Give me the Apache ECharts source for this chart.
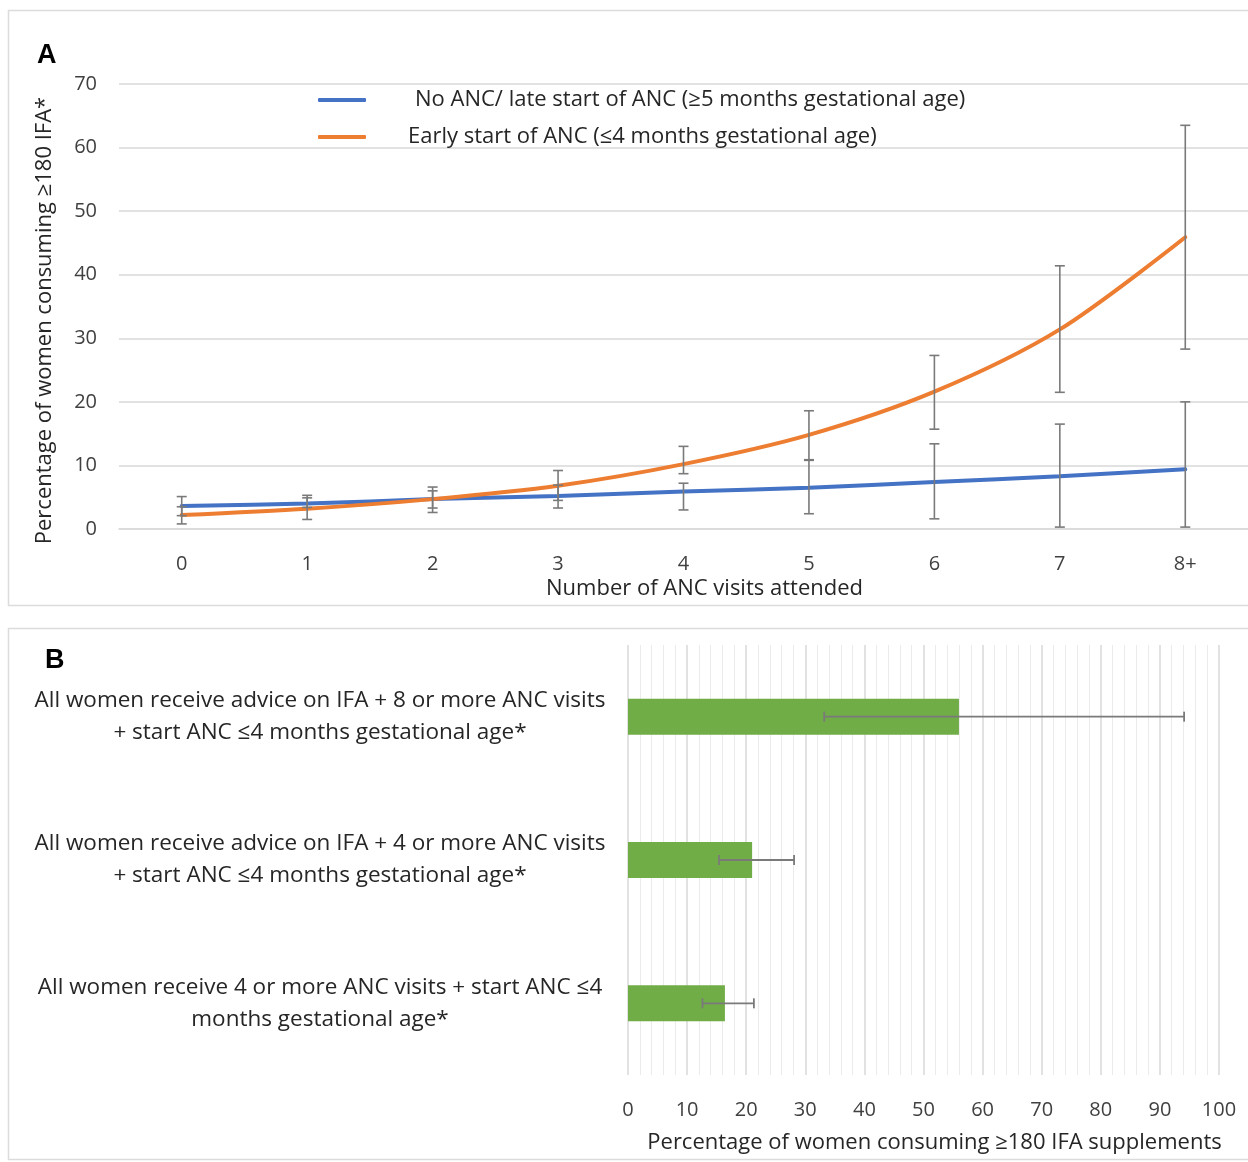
<!DOCTYPE html>
<html>
<head>
<meta charset="utf-8">
<script src="https://cdn.jsdelivr.net/npm/echarts@6/dist/echarts.min.js"></script>
<style>
  html, body { margin: 0; padding: 0; background: #fff; }
  #chart { width: 1248px; height: 1162px; }
</style>
</head>
<body>
<div id="chart"></div>
<script>
// Panel A: IFA consumption by number of ANC visits
const visits = ['0', '1', '2', '3', '4', '5', '6', '7', '8+'];
const lateStart = [3.6, 4.0, 4.7, 5.2, 5.9, 6.5, 7.4, 8.3, 9.4];
const lateLow = [2.1, 3.4, 3.3, 3.3, 3.0, 2.4, 1.6, 0.3, 0.3];
const lateHigh = [5.1, 5.3, 6.0, 6.9, 7.2, 10.8, 13.4, 16.5, 20.0];
const earlyStart = [2.2, 3.2, 4.7, 6.8, 10.2, 14.8, 21.6, 31.4, 45.9];
const earlyLow = [0.8, 1.5, 2.6, 4.5, 8.7, 10.9, 15.7, 21.5, 28.3];
const earlyHigh = [3.5, 4.9, 6.6, 9.2, 13.0, 18.6, 27.3, 41.4, 63.5];
const lateName = 'No ANC/ late start of ANC (≥5 months gestational age)';
const earlyName = 'Early start of ANC (≤4 months gestational age)';

// Panel B: scenario estimates
const scenarios = [
  'All women receive advice on IFA + 8 or more ANC visits\n+ start ANC ≤4 months gestational age*',
  'All women receive advice on IFA + 4 or more ANC visits\n+ start ANC ≤4 months gestational age*',
  'All women receive 4 or more ANC visits + start ANC ≤4\nmonths gestational age*'
];
const scenarioValues = [56.0, 21.0, 16.4];
const scenarioLow = [33.2, 15.4, 12.6];
const scenarioHigh = [94.1, 28.1, 21.3];

const FONT = 'Open Sans';
const TXT = '#262626';
const TICK = '#404040';
const GRID = '#d9d9d9';
const ERR = '#7a7a7a';

const chart = echarts.init(document.getElementById('chart'), null, { renderer: 'canvas' });

// vertical error bars (panel A)
function vErr(params, api) {
  const x = api.value(0);
  const lo = api.coord([x, api.value(1)]);
  const hi = api.coord([x, api.value(2)]);
  const w = 5;
  const style = { stroke: ERR, lineWidth: 1.6 };
  return {
    type: 'group',
    children: [
      { type: 'line', shape: { x1: lo[0], y1: lo[1], x2: hi[0], y2: hi[1] }, style },
      { type: 'line', shape: { x1: lo[0] - w, y1: lo[1], x2: lo[0] + w, y2: lo[1] }, style },
      { type: 'line', shape: { x1: hi[0] - w, y1: hi[1], x2: hi[0] + w, y2: hi[1] }, style }
    ]
  };
}
// horizontal error bars (panel B)
function hErr(params, api) {
  const y = api.value(0);
  const lo = api.coord([api.value(1), y]);
  const hi = api.coord([api.value(2), y]);
  const h = 5;
  const style = { stroke: ERR, lineWidth: 1.8 };
  return {
    type: 'group',
    children: [
      { type: 'line', shape: { x1: lo[0], y1: lo[1], x2: hi[0], y2: hi[1] }, style },
      { type: 'line', shape: { x1: lo[0], y1: lo[1] - h, x2: lo[0], y2: lo[1] + h }, style },
      { type: 'line', shape: { x1: hi[0], y1: hi[1] - h, x2: hi[0], y2: hi[1] + h }, style }
    ]
  };
}

const option = {
  backgroundColor: '#fff',
  animation: false,
  textStyle: { fontFamily: FONT },
  graphic: [
    { type: 'rect', shape: { x: 8.5, y: 10.5, width: 1260, height: 595 },
      style: { fill: 'none', stroke: '#dcdcdc', lineWidth: 1.5 }, silent: true },
    { type: 'rect', shape: { x: 8.5, y: 628.5, width: 1260, height: 531 },
      style: { fill: 'none', stroke: '#dcdcdc', lineWidth: 1.5 }, silent: true },
    { type: 'text', left: 37, top: 42,
      style: { text: 'A', font: 'bold 27px Liberation Sans', fill: '#000' } },
    { type: 'text', left: 45, top: 647,
      style: { text: 'B', font: 'bold 27px Liberation Sans', fill: '#000' } }
  ],
  legend: {
    orient: 'vertical',
    left: 313,
    top: 84,
    itemWidth: 48,
    itemHeight: 4,
    itemGap: 15,
    icon: 'roundRect',
    textStyle: { fontFamily: FONT, fontSize: 22, color: TXT },
    data: [
      { name: lateName, textStyle: { padding: [0, 0, 0, 44] } },
      { name: earlyName, textStyle: { padding: [0, 0, 0, 37] } }
    ]
  },
  grid: [
    { left: 119, top: 84, width: 1134, height: 445 },
    { left: 628, top: 645, width: 591, height: 430 }
  ],
  xAxis: [
    {
      gridIndex: 0,
      type: 'category',
      data: visits,
      boundaryGap: true,
      axisLine: { show: true, lineStyle: { color: GRID, width: 1.5 } },
      axisTick: { show: false },
      axisLabel: { margin: 25, fontSize: 20, color: TICK, fontFamily: FONT },
      name: 'Number of ANC visits attended',
      nameLocation: 'middle',
      nameGap: 49,
      nameTextStyle: { fontSize: 22, color: TXT, fontFamily: FONT, padding: [0, 0, 0, 42] }
    },
    {
      gridIndex: 1,
      type: 'value',
      min: 0,
      max: 100,
      interval: 10,
      axisLine: { show: false },
      axisTick: { show: false },
      axisLabel: { margin: 25, fontSize: 20, color: TICK, fontFamily: FONT },
      splitLine: { show: true, lineStyle: { color: GRID, width: 1.5 } },
      minorTick: { show: false, splitNumber: 5 },
      minorSplitLine: { show: true, lineStyle: { color: '#ebebeb', width: 1 } },
      name: 'Percentage of women consuming ≥180 IFA supplements',
      nameLocation: 'middle',
      nameGap: 57,
      nameTextStyle: { fontSize: 22, color: TXT, fontFamily: FONT, padding: [0, 0, 0, 22] }
    }
  ],
  yAxis: [
    {
      gridIndex: 0,
      type: 'value',
      min: 0,
      max: 70,
      interval: 10,
      axisLine: { show: false },
      axisTick: { show: false },
      axisLabel: { margin: 22, fontSize: 20, color: TICK, fontFamily: FONT },
      splitLine: { show: true, lineStyle: { color: GRID, width: 1.5 } },
      name: 'Percentage of women consuming ≥180 IFA*',
      nameLocation: 'middle',
      nameGap: 63,
      nameTextStyle: { fontSize: 22, color: TXT, fontFamily: FONT, padding: [0, 28, 0, 0] }
    },
    {
      gridIndex: 1,
      type: 'category',
      data: scenarios,
      inverse: true,
      axisLine: { show: false },
      axisTick: { show: false },
      splitLine: { show: false },
      axisLabel: {
        align: 'center',
        margin: 308,
        fontSize: 22.5,
        lineHeight: 32,
        color: TXT,
        fontFamily: FONT
      }
    }
  ],
  series: [
    {
      name: lateName,
      type: 'line',
      xAxisIndex: 0, yAxisIndex: 0,
      data: lateStart,
      smooth: 0.3,
      showSymbol: false,
      symbol: 'none',
      color: '#4472C4',
      lineStyle: { width: 4, color: '#4472C4', cap: 'round' },
      z: 2
    },
    {
      name: earlyName,
      type: 'line',
      xAxisIndex: 0, yAxisIndex: 0,
      data: earlyStart,
      smooth: 0.3,
      showSymbol: false,
      symbol: 'none',
      color: '#ED7D31',
      lineStyle: { width: 4, color: '#ED7D31', cap: 'round' },
      z: 3
    },
    {
      type: 'custom',
      xAxisIndex: 0, yAxisIndex: 0,
      renderItem: vErr,
      data: visits.map((v, i) => [i, lateLow[i], lateHigh[i]]),
      z: 4,
      silent: true
    },
    {
      type: 'custom',
      xAxisIndex: 0, yAxisIndex: 0,
      renderItem: vErr,
      data: visits.map((v, i) => [i, earlyLow[i], earlyHigh[i]]),
      z: 4,
      silent: true
    },
    {
      type: 'bar',
      xAxisIndex: 1, yAxisIndex: 1,
      data: scenarioValues,
      barWidth: 36,
      itemStyle: { color: '#70AD47' },
      z: 2
    },
    {
      type: 'custom',
      xAxisIndex: 1, yAxisIndex: 1,
      renderItem: hErr,
      data: scenarios.map((s, i) => [i, scenarioLow[i], scenarioHigh[i]]),
      encode: { x: [1, 2], y: 0 },
      z: 4,
      silent: true
    }
  ]
};

chart.setOption(option);
</script>
</body>
</html>
